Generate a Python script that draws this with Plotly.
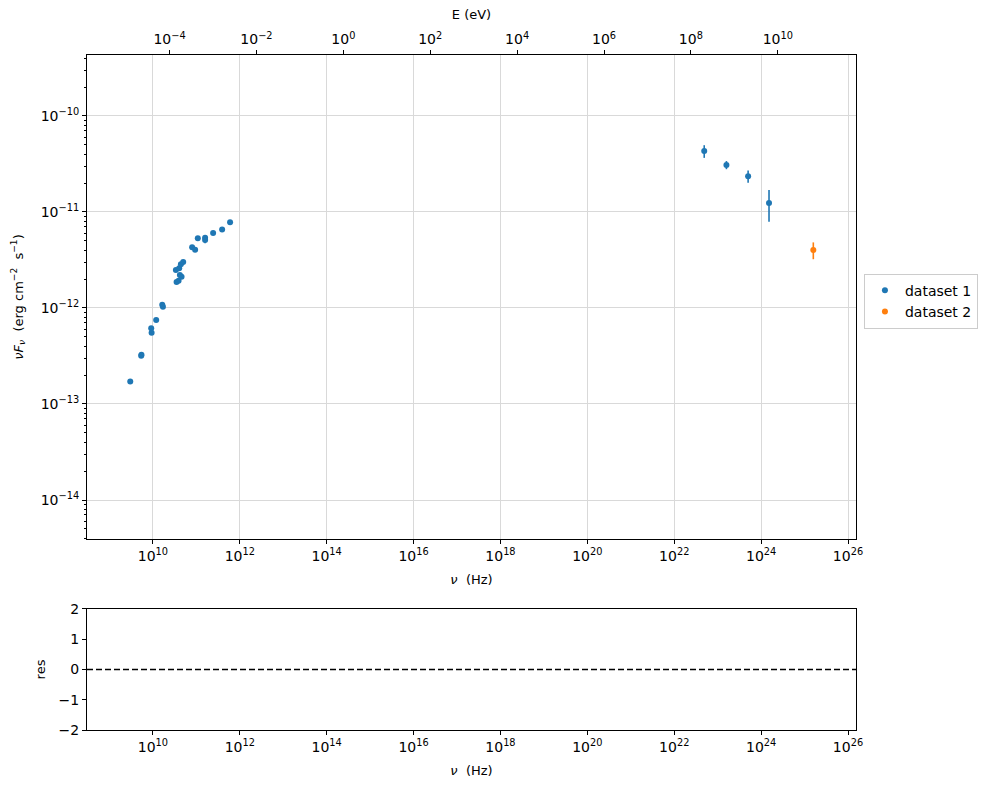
import numpy as np
import plotly.graph_objects as go

# ---- data ----
nu_d1 = [3.01e9, 5.38e9, 5.45e9, 9.14e9, 9.33e9, 1.19e10, 1.64e10, 1.70e10,
         3.51e10, 3.90e10, 4.57e10, 4.18e10, 3.38e10, 4.03e10, 4.41e10, 4.98e10,
         8.00e10, 9.38e10, 1.08e11, 1.59e11, 1.59e11, 2.43e11, 3.92e11, 5.98e11,
         4.90e22, 1.59e23, 5.02e23, 1.52e24]
f_d1 = [1.72e-13, 3.18e-13, 3.25e-13, 6.15e-13, 5.53e-13, 7.50e-13, 1.08e-12, 1.03e-12,
        1.87e-12, 1.92e-12, 2.12e-12, 2.21e-12, 2.49e-12, 2.59e-12, 2.85e-12, 3.01e-12,
        4.29e-12, 4.05e-12, 5.32e-12, 5.40e-12, 5.11e-12, 6.04e-12, 6.55e-12, 7.82e-12,
        4.31e-11, 3.09e-11, 2.36e-11, 1.24e-11]
ferr_d1 = [4e-15, 8e-15, 8e-15, 1.5e-14, 1.4e-14, 1.9e-14, 2.5e-14, 2.5e-14,
           4e-14, 4e-14, 5e-14, 5e-14, 6e-14, 6e-14, 7e-14, 7e-14,
           1e-13, 1e-13, 1.3e-13, 1.3e-13, 4e-13, 1.5e-13, 1.6e-13, 1.9e-13,
           0.65e-11, 0.30e-11, 0.35e-11, 0.45e-11]

nu_d2 = [1.59e25]
f_d2 = [4.02e-12]
ferr_d2 = [0.8e-12]

x_ticks = [1e10, 1e12, 1e14, 1e16, 1e18, 1e20, 1e22, 1e24, 1e26]
x_ticktext = ["10<sup>%d</sup>" % int(round(np.log10(v))) for v in x_ticks]
y_ticks = [1e-14, 1e-13, 1e-12, 1e-11, 1e-10]
y_ticktext = ["10<sup>\u2212%d</sup>" % int(round(-np.log10(v))) for v in y_ticks]
e_ticks = [1e-4, 1e-2, 1e0, 1e2, 1e4, 1e6, 1e8, 1e10]
e_ticktext = ["10<sup>%s</sup>" % (("\u2212%d" % -int(round(np.log10(v)))) if v < 1 else "%d" % int(round(np.log10(v)))) for v in e_ticks]
res_ticks = [-2, -1, 0, 1, 2]

H_EV = 4.135667696e-15  # eV s
XLOG = [8.483, 26.184]
YLOG = [-14.406, -9.365]

blue = "#1f77b4"
orange = "#ff7f0e"

fig = go.Figure()
fig.add_trace(go.Scatter(
    x=nu_d1, y=f_d1, mode="markers", name="dataset 1",
    marker=dict(color=blue, size=6),
    error_y=dict(type="data", array=ferr_d1, color=blue, thickness=1.6, width=0),
    xaxis="x", yaxis="y"))
fig.add_trace(go.Scatter(
    x=nu_d2, y=f_d2, mode="markers", name="dataset 2",
    marker=dict(color=orange, size=6),
    error_y=dict(type="data", array=ferr_d2, color=orange, thickness=1.6, width=0),
    xaxis="x", yaxis="y"))
# invisible trace to activate the top energy axis
fig.add_trace(go.Scatter(x=[1e0], y=[1e-12], mode="markers", marker=dict(opacity=0),
                         showlegend=False, hoverinfo="skip", xaxis="x2", yaxis="y"))
# invisible trace on residual axes
fig.add_trace(go.Scatter(x=[1e10], y=[0], mode="markers", marker=dict(opacity=0),
                         showlegend=False, hoverinfo="skip", xaxis="x3", yaxis="y3"))

minor_y = [m * 10.0 ** k for k in range(-15, -9) for m in range(2, 10)]

tick_font = dict(family="DejaVu Sans", size=14, color="black")
title_font = dict(family="DejaVu Sans", size=13, color="black")
common = dict(showline=True, linecolor="black", linewidth=1, ticks="outside",
              ticklen=4, tickcolor="black", tickfont=tick_font, zeroline=False)

fig.update_layout(
    width=989, height=790,
    margin=dict(l=87, r=132, t=55, b=60),
    paper_bgcolor="white", plot_bgcolor="white",
    font=dict(family="DejaVu Sans", size=13, color="black"),
    xaxis=dict(type="log", range=XLOG, domain=[0, 1], anchor="y",
               tickmode="array", tickvals=x_ticks, ticktext=x_ticktext,
               showgrid=True, gridcolor="#d9d9d9", gridwidth=1, mirror=True,
               title=dict(text="<i>ν</i>  (Hz)", font=title_font, standoff=12), **common),
    yaxis=dict(type="log", range=YLOG, domain=[0.283, 1], anchor="x",
               tickmode="array", tickvals=y_ticks, ticktext=y_ticktext,
               showgrid=True, gridcolor="#d9d9d9", gridwidth=1, mirror=True,
               minor=dict(tickmode="array", tickvals=minor_y, ticks="outside",
                          ticklen=2, tickcolor="black", showgrid=False),
               title=dict(text="<i>νF<sub>ν</sub></i>  (erg cm<sup>\u22122</sup>  s<sup>\u22121</sup>)",
                          font=title_font, standoff=14), **common),
    xaxis2=dict(type="log", range=[XLOG[0] + np.log10(H_EV), XLOG[1] + np.log10(H_EV)],
                overlaying="x", side="top", anchor="y",
                tickmode="array", tickvals=e_ticks, ticktext=e_ticktext,
                showgrid=False,
                title=dict(text="E (eV)", font=title_font, standoff=6), **common),
    xaxis3=dict(type="log", range=XLOG, domain=[0, 1], anchor="y3",
                tickmode="array", tickvals=x_ticks, ticktext=x_ticktext,
                showgrid=False, mirror=True,
                title=dict(text="<i>ν</i>  (Hz)", font=title_font, standoff=12), **common),
    yaxis3=dict(range=[-2, 2], domain=[0, 0.1793], anchor="x3",
                tickmode="array", tickvals=res_ticks,
                showgrid=False, mirror=True,
                title=dict(text="res", font=title_font, standoff=10), **common),
    legend=dict(x=1.009, y=0.676, xanchor="left", yanchor="top",
                bordercolor="#cccccc", borderwidth=1, bgcolor="white",
                font=dict(family="DejaVu Sans", size=14, color="black")),
    showlegend=True,
)

fig.add_shape(type="line", xref="x3 domain", yref="y3", x0=0, x1=1, y0=0, y1=0,
              line=dict(color="black", width=1.6, dash="6px,3px"))

fig.write_html("out.html")
